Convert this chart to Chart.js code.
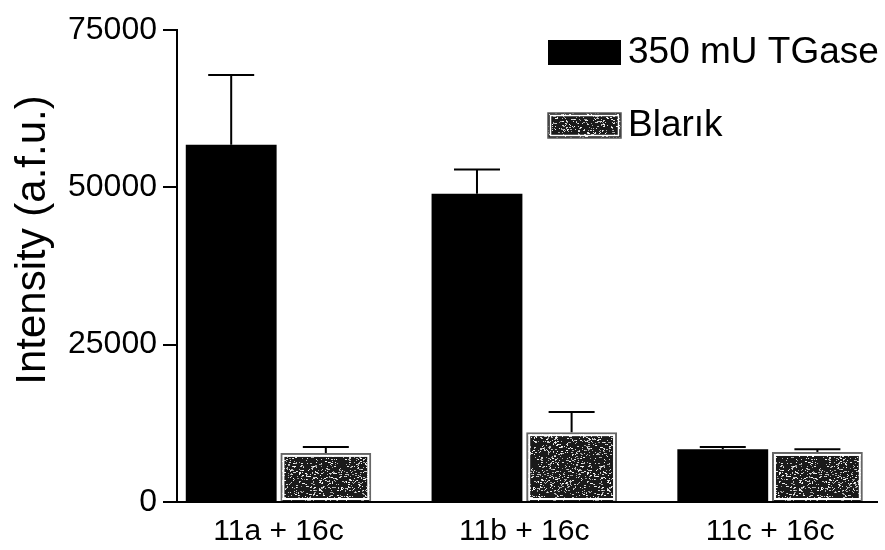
<!DOCTYPE html>
<html>
<head>
<meta charset="utf-8">
<script src="https://cdn.jsdelivr.net/npm/chart.js@4"></script>
<style>
  html, body { margin: 0; padding: 0; background: #fff; }
  #chart { display: block; }
</style>
</head>
<body>
<canvas id="chart" width="885" height="550"></canvas>
<script>
const categories = ["11a + 16c", "11b + 16c", "11c + 16c"];
const seriesLabels = ["350 mU TGase", "Blarık"];
const yTitle = "Intensity (a.f.u.)";
const tgaseValues = [56750, 49000, 8400];
const tgaseErrors = [11100, 3850, 330];
const blankValues = [7800, 11100, 7950];
const blankErrors = [950, 3200, 450];
const yTicks = [0, 25000, 50000, 75000];

const FONT = "'Liberation Sans', Arial, sans-serif";

// speckled grey fill used for the blank bars (fixed seed, texture only)
function speckle() {
  const c = document.createElement("canvas");
  c.width = 96;
  c.height = 96;
  const g = c.getContext("2d");
  g.fillStyle = "#1a1a1a";
  g.fillRect(0, 0, 96, 96);
  let s = 12345;
  const next = () => (s = (s * 1103515245 + 12345) % 2147483648) / 2147483648;
  for (let i = 0; i < 1400; i++) {
    const v = 150 + Math.floor(next() * 105);
    g.fillStyle = `rgb(${v},${v},${v})`;
    g.fillRect(Math.floor(next() * 96), Math.floor(next() * 96), next() < 0.3 ? 2 : 1, 1);
  }
  return g.createPattern(c, "repeat");
}
const blankFill = speckle();

const toPoints = (vals) => vals.map((v, i) => ({ x: i + 1, y: v }));
const errorsFor = [tgaseErrors, blankErrors];

const errorBars = {
  id: "errorBars",
  afterDatasetsDraw(chart) {
    const { ctx } = chart;
    const y = chart.scales.y;
    ctx.save();
    chart.data.datasets.forEach((ds, di) => {
      const meta = chart.getDatasetMeta(di);
      meta.data.forEach((bar, i) => {
        if (di === 1) {
          // white inner rim inside the grey outline
          const l = bar.x - bar.width / 2, t = bar.y;
          ctx.strokeStyle = "#fff";
          ctx.lineWidth = 2;
          ctx.strokeRect(l + 3, t + 3, bar.width - 6, bar.base - t - 5);
        }
        const err = errorsFor[di][i];
        const top = y.getPixelForValue(ds.data[i].y + err);
        ctx.strokeStyle = "#000";
        ctx.lineWidth = 2;
        ctx.beginPath();
        ctx.moveTo(bar.x, bar.y);
        ctx.lineTo(bar.x, top);
        ctx.moveTo(bar.x - 23, top);
        ctx.lineTo(bar.x + 23, top);
        ctx.stroke();
      });
    });
    ctx.restore();
  },
};

const boxLegend = {
  id: "boxLegend",
  afterDraw(chart) {
    const { ctx } = chart;
    ctx.save();
    ctx.font = `37px ${FONT}`;
    ctx.textBaseline = "middle";
    chart.data.datasets.forEach((ds, i) => {
      const top = 40 + i * 73;
      if (i === 0) {
        ctx.fillStyle = "#000";
        ctx.fillRect(548, top, 73, 25);
      } else {
        ctx.fillStyle = blankFill;
        ctx.fillRect(548, top, 73, 25);
        ctx.strokeStyle = "#fff";
        ctx.lineWidth = 1.5;
        ctx.strokeRect(550.5, top + 2.5, 68, 20);
        ctx.strokeStyle = "#555";
        ctx.lineWidth = 1.5;
        ctx.strokeRect(548, top, 73, 25);
      }
      ctx.fillStyle = "#000";
      ctx.fillText(ds.label, 628, top + 13);
    });

    // y axis title, sitting a little above the axis middle as in the original
    ctx.translate(33, 240);
    ctx.rotate(-Math.PI / 2);
    ctx.textAlign = "center";
    ctx.font = `42px ${FONT}`;
    ctx.fillText(yTitle, 0, 0);
    ctx.restore();
  },
};

new Chart(document.getElementById("chart"), {
  type: "bar",
  data: {
    datasets: [
      {
        label: seriesLabels[0],
        data: toPoints(tgaseValues),
        backgroundColor: "#000",
        borderWidth: 0,
      },
      {
        label: seriesLabels[1],
        data: toPoints(blankValues),
        backgroundColor: blankFill,
        borderColor: "#666",
        borderWidth: 2,
      },
    ],
  },
  options: {
    responsive: false,
    animation: false,
    events: [],
    layout: { padding: { left: 0, right: 8, top: 30, bottom: 0 } },
    datasets: { bar: { categoryPercentage: 0.77, barPercentage: 0.96 } },
    plugins: { legend: { display: false }, tooltip: { enabled: false } },
    scales: {
      x: {
        type: "linear",
        offset: false,
        min: 0.587,
        max: 3.435,
        afterBuildTicks: (s) => { s.ticks = categories.map((_, i) => ({ value: i + 1 })); },
        afterFit: (s) => { s.height = 48; },
        ticks: {
          color: "#000",
          padding: 4,
          font: { family: FONT, size: 30 },
          callback: (v) => categories[v - 1],
        },
        grid: { display: false, offset: false },
        border: { display: true, color: "#000", width: 2 },
      },
      y: {
        min: 0,
        max: 75000,
        afterBuildTicks: (s) => { s.ticks = yTicks.map((v) => ({ value: v })); },
        afterFit: (s) => { s.width = 177; },
        ticks: {
          color: "#000",
          padding: 6,
          font: { family: FONT, size: 32 },
          callback: (v) => String(v),
        },
        grid: { display: true, drawOnChartArea: false, drawTicks: true, tickLength: 14, color: "#000", lineWidth: 2 },
        border: { display: true, color: "#000", width: 2 },
      },
    },
  },
  plugins: [errorBars, boxLegend],
});
</script>
</body>
</html>
